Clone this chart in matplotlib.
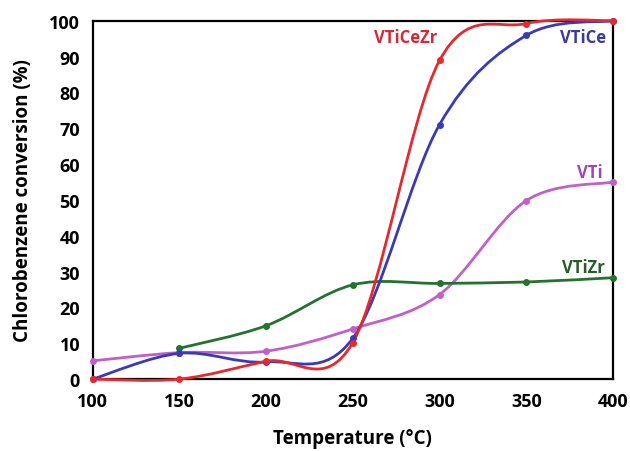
import numpy as np
import matplotlib
matplotlib.use('Agg')
import matplotlib.pyplot as plt
from matplotlib.path import Path
from matplotlib.patches import PathPatch

# Temperatures (deg C) and conversion values (%)
temp = [100, 150, 200, 250, 300, 350, 400]
temp_zr = [150, 200, 250, 300, 350, 400]

vticezr = [0, 0, 5, 10.2, 88.9, 99.2, 100]
vtice = [0, 7.2, 4.8, 11.4, 71, 95.9, 100]
vti = [5.1, 7.4, 7.8, 14, 23.6, 49.8, 55]
vtizr = [8.6, 14.9, 26.3, 26.7, 27.1, 28.3]

series = [
    ('VTi', temp, vti, '#c060c8', '#a343b3', (394, 57.8)),
    ('VTiZr', temp_zr, vtizr, '#24722f', '#2b5a2e', (395, 31.4)),
    ('VTiCe', temp, vtice, '#3a3ab8', '#3b3b9c', (396, 95.4)),
    ('VTiCeZr', temp, vticezr, '#e52a2f', '#d02a3b', (262.5, 95.4)),
]


def smooth_path(x, y):
    # Excel-style smoothed line: cubic Bezier with Catmull-Rom control points
    p = np.column_stack([x, y]).astype(float)
    pts = np.vstack([p[0], p, p[-1]])
    verts = [tuple(p[0])]
    codes = [Path.MOVETO]
    for i in range(1, len(pts) - 2):
        b1 = pts[i] + (pts[i + 1] - pts[i - 1]) / 6
        b2 = pts[i + 1] - (pts[i + 2] - pts[i]) / 6
        verts += [tuple(b1), tuple(b2), tuple(pts[i + 1])]
        codes += [Path.CURVE4] * 3
    return Path(verts, codes)


plt.rcParams['font.family'] = ['Open Sans', 'DejaVu Sans']
plt.rcParams['font.weight'] = 'bold'

fig = plt.figure(figsize=(6.30, 4.52), dpi=100)
ax = fig.add_axes([0.147, 0.159, 0.826, 0.793])

for name, xs, ys, color, tcolor, (lx, ly) in series:
    patch = PathPatch(smooth_path(xs, ys), facecolor='none', edgecolor=color,
                      lw=2.0, clip_on=False, zorder=3)
    ax.add_patch(patch)
    ax.plot(xs, ys, 'o', color=color, ms=4, clip_on=False, zorder=4)
    ha = 'left' if name == 'VTiCeZr' else 'right'
    ax.text(lx, ly, name, color=tcolor, fontsize=12, fontweight='bold',
            ha=ha, va='center')

ax.set_xlim(100, 400)
ax.set_ylim(0, 100)
ax.set_xticks(np.arange(100, 401, 50))
ax.set_yticks(np.arange(0, 101, 10))
ax.tick_params(length=0, labelsize=13, pad=9)
for lab in ax.get_xticklabels() + ax.get_yticklabels():
    lab.set_fontweight('bold')
for s in ax.spines.values():
    s.set_linewidth(1.6)
    s.set_color('black')

ax.set_xlabel('Temperature (\u00b0C)', fontsize=13.5, fontweight='bold', labelpad=13)
ax.set_ylabel('Chlorobenzene conversion (%)', fontsize=13.5, fontweight='bold', labelpad=12)

fig.savefig('out.png', dpi=100)
